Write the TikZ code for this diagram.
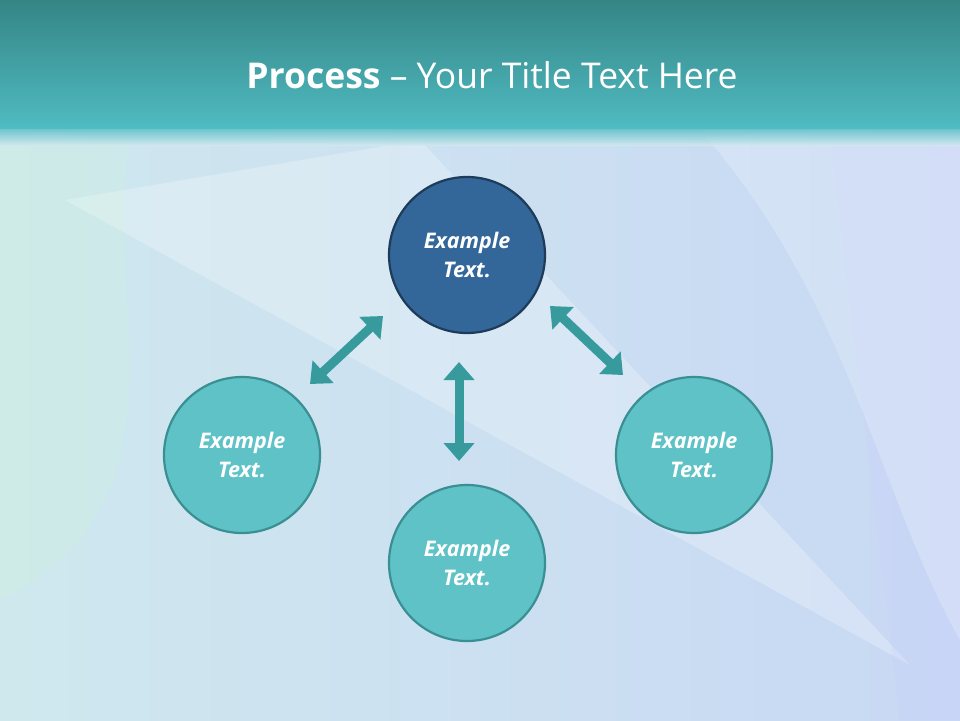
\documentclass[tikz,border=0pt]{standalone}
\usepackage{fontspec}
\setmainfont{Open Sans}
\usetikzlibrary{arrows.meta}
\definecolor{bgA}{HTML}{CFE8EE}
\definecolor{bgB}{HTML}{C8D8F4}
\definecolor{barTop}{HTML}{358585}
\definecolor{barBot}{HTML}{4FBBC2}
\definecolor{darkC}{HTML}{336699}
\definecolor{darkE}{HTML}{1E3B5A}
\definecolor{lightC}{HTML}{5FC2C6}
\definecolor{lightE}{HTML}{3A8F93}
\definecolor{arr}{HTML}{379A9C}
\tikzset{
  circ/.style={circle,minimum size=156pt,line width=2.2pt,text=white,font=\fontsize{21.5}{29}\selectfont\bfseries\itshape,align=center,inner sep=0pt},
  darkcirc/.style={circ,fill=darkC,draw=darkE},
  lightcirc/.style={circ,fill=lightC,draw=lightE},
  dbl/.style={draw=arr,line width=9pt,{Triangle[width=30pt,length=18pt]}-{Triangle[width=30pt,length=18pt]}}
}
\begin{document}
\begin{tikzpicture}[x=1pt,y=-1pt]
\useasboundingbox (0,0) rectangle (960,720);
\shade[left color=bgA,right color=bgB] (0,0) rectangle (960,720);
\fill[white,opacity=0.25] (65,200) -- (420,140) -- (910,665) -- cycle;
\fill[green!20!white,opacity=0.15] (0,600) .. controls (200,500) and (100,300) .. (130,140) -- (0,140) -- cycle;
\fill[blue!20!white,opacity=0.2] (830,140) -- (960,140) -- (960,720) -- (900,720) -- cycle;
\fill[white,opacity=0.2] (700,130) .. controls (850,300) and (880,500) .. (960,640) -- (960,130) -- cycle;
\shade[top color=barTop,bottom color=barBot] (0,0) rectangle (960,128);
\shade[top color=barBot,bottom color=bgA,opacity=0.8] (0,128) rectangle (960,145);
\node[text=white,font=\fontsize{35.5}{40}\selectfont] (title) at (492,75) {\textbf{Process} – Your Title Text Here};
\node[darkcirc] (top) at (467,255) {Example\\Text.};
\node[lightcirc] (left) at (242,455) {Example\\Text.};
\node[lightcirc] (bottom) at (467,563) {Example\\Text.};
\node[lightcirc] (right) at (694,455) {Example\\Text.};
\coordinate (l1) at (310,384); \coordinate (l2) at (383,316);
\coordinate (m1) at (459,362); \coordinate (m2) at (459,461);
\coordinate (r1) at (550,306); \coordinate (r2) at (623,375);
\draw[dbl] (l1) -- (l2);
\draw[dbl] (m1) -- (m2);
\draw[dbl] (r1) -- (r2);
\end{tikzpicture}
\end{document}
